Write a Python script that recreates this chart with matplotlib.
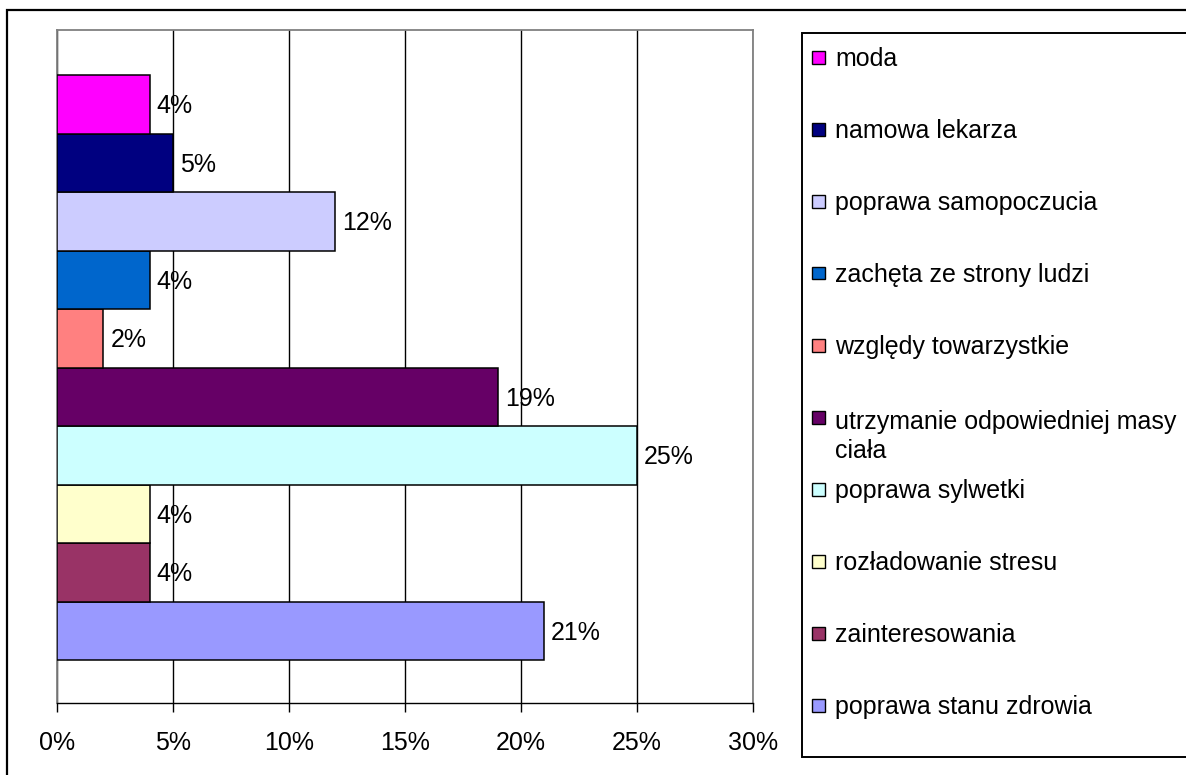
import matplotlib
matplotlib.use('Agg')
import matplotlib.pyplot as plt
from matplotlib.patches import Rectangle

plt.rcParams['font.family'] = ['Liberation Sans', 'DejaVu Sans']

# series in drawing order, bottom bar first
categories = ['poprawa stanu zdrowia', 'zainteresowania', 'rozładowanie stresu',
              'poprawa sylwetki', 'utrzymanie odpowiedniej masy\nciała',
              'względy towarzystkie', 'zachęta ze strony ludzi',
              'poprawa samopoczucia', 'namowa lekarza', 'moda']
values = [21, 4, 4, 25, 19, 2, 4, 12, 5, 4]
colors = ['#9999FF', '#993366', '#FFFFCC', '#CCFFFF', '#660066',
          '#FF8080', '#0066CC', '#CCCCFF', '#000080', '#FF00FF']
xticks = [0, 5, 10, 15, 20, 25, 30]

W, H = 1186, 775
FS = 18

fig = plt.figure(figsize=(W / 100, H / 100), dpi=100)
fig.patch.set_facecolor('white')

# outer chart frame (runs off the right and bottom edges)
fig.add_artist(Rectangle((7 / W, -0.05), 1.2, 1 - 10 / H + 0.05,
                         transform=fig.transFigure, fill=False,
                         edgecolor='black', linewidth=1.6))

ax = fig.add_axes([57 / W, 72 / H, 696 / W, 673 / H])
for i, (v, c) in enumerate(zip(values, colors)):
    ax.barh(i, v, height=1.0, color=c, edgecolor='black', linewidth=1.1, zorder=3)
    ax.annotate(f'{v}%', xy=(v, i), xytext=(5, -1.5), textcoords='offset points',
                ha='left', va='center', fontsize=FS, zorder=4)

ax.set_xlim(0, 30)
ax.set_ylim(-1.235, 10.27)
ax.set_xticks(xticks)
ax.set_xticklabels([f'{t}%' for t in xticks], fontsize=FS)
ax.set_yticks([])
ax.xaxis.grid(True, color='black', linewidth=1.0, zorder=0)
ax.set_axisbelow(True)
ax.tick_params(axis='x', direction='out', length=6.5, width=1.0, pad=14)
for side in ['left', 'top', 'right']:
    ax.spines[side].set_color('#808080')
    ax.spines[side].set_linewidth(1.3)
ax.spines['bottom'].set_color('black')
ax.spines['bottom'].set_linewidth(1.0)

# legend box, entries listed top to bottom
fig.add_artist(Rectangle((802 / W, 1 - 757 / H), 400 / W, (757 - 33) / H,
                         transform=fig.transFigure, facecolor='white',
                         edgecolor='black', linewidth=1.4))
line_gap = 32
for k, idx in enumerate(range(len(categories) - 1, -1, -1)):
    yc = 57 + 72 * k
    label = categories[idx]
    extra = label.count('\n') * line_gap
    fig.add_artist(Rectangle((812 / W, 1 - (yc + 6.5) / H), 13 / W, 13 / H,
                             transform=fig.transFigure, facecolor=colors[idx],
                             edgecolor='black', linewidth=1.0))
    fig.text(835 / W, 1 - (yc + 9 + extra) / H, label, fontsize=FS,
             ha='left', va='baseline', linespacing=line_gap / (FS * 100 / 72))

fig.savefig('out.png', dpi=100)
